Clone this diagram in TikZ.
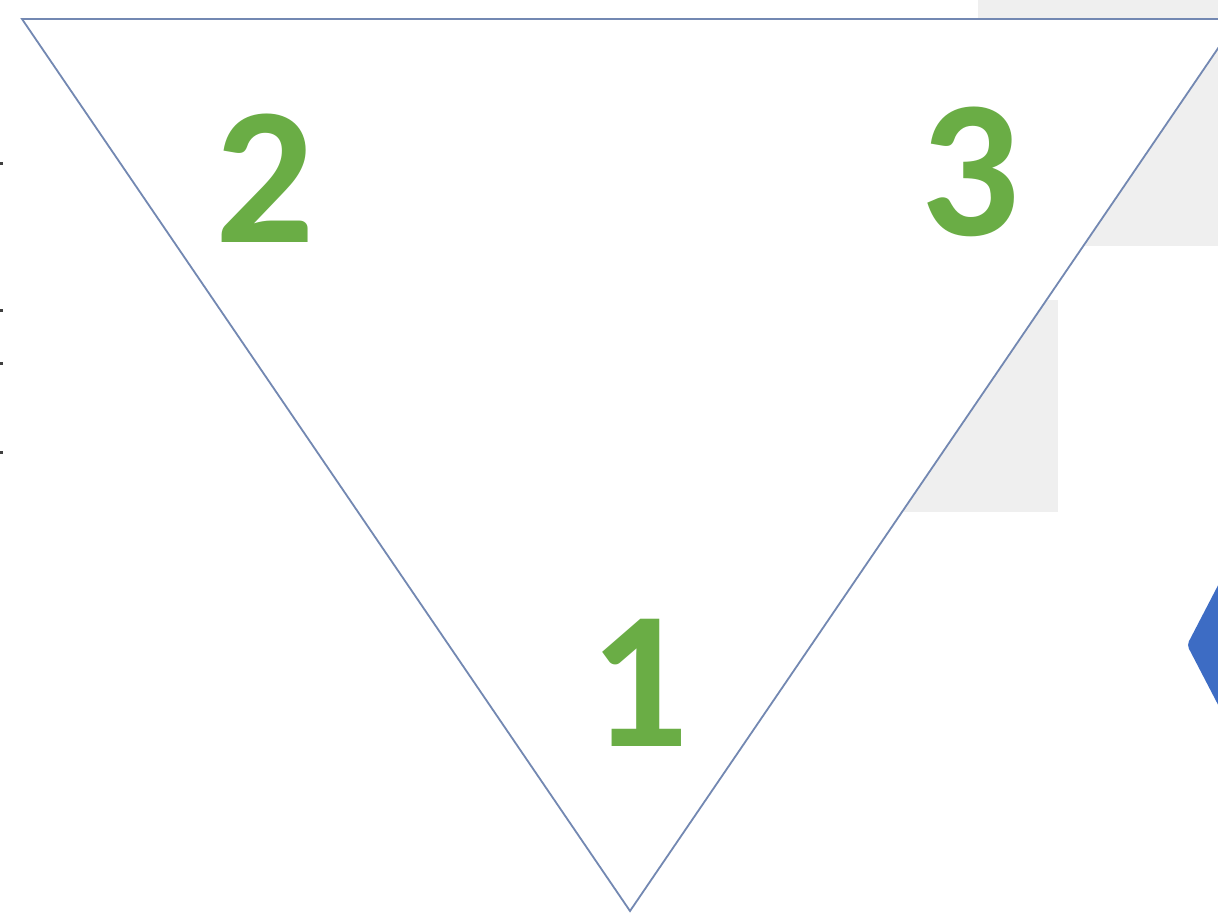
\documentclass[tikz,border=0pt]{standalone}
\usepackage{fontspec}
\setmainfont{Carlito}
\definecolor{tri}{HTML}{7388B2}
\definecolor{numgreen}{HTML}{6AAD45}
\definecolor{boxgray}{HTML}{EFEFEF}
\definecolor{diam}{HTML}{3D6CC4}
\tikzset{
  num/.style={text=numgreen, font=\fontsize{196}{196}\selectfont\bfseries, inner sep=0pt, anchor=center},
  triline/.style={draw=tri, line width=1.8pt, line join=miter, fill=white},
  graybox/.style={fill=boxgray, draw=none},
  dot/.style={fill=black!75, draw=none}
}
\begin{document}
\begin{tikzpicture}[x=1pt,y=-1pt]
\useasboundingbox (0,0) rectangle (1218,915);
\begin{scope}
\clip (0,0) rectangle (1218,915);
\fill[white] (0,0) rectangle (1218,915);
% gray background boxes
\path[graybox] (978,0) rectangle (1218,246);
\path[graybox] (880,300) rectangle (1058,512);
% blue diamond at right edge
\path[fill=diam, rounded corners=4pt] (1240,543) -- (1187,645) -- (1240,747) -- (1290,645) -- cycle;
% left edge dots
\path[dot] (0,162) rectangle (3,165);
\path[dot] (0,309) rectangle (3,312);
\path[dot] (0,362) rectangle (3,365);
\path[dot] (0,451) rectangle (3,454);
% triangle
\coordinate (A) at (22,19);
\coordinate (B) at (1238,19);
\coordinate (C) at (630,911);
\path[triline] (A) -- (B) -- (C) -- cycle;
\end{scope}
\node[num] (n2) at (265,178) {2};
\node[num] (n3) at (970,172) {3};
\node[num] (n1) at (639,683) {1};
\end{tikzpicture}
\end{document}
